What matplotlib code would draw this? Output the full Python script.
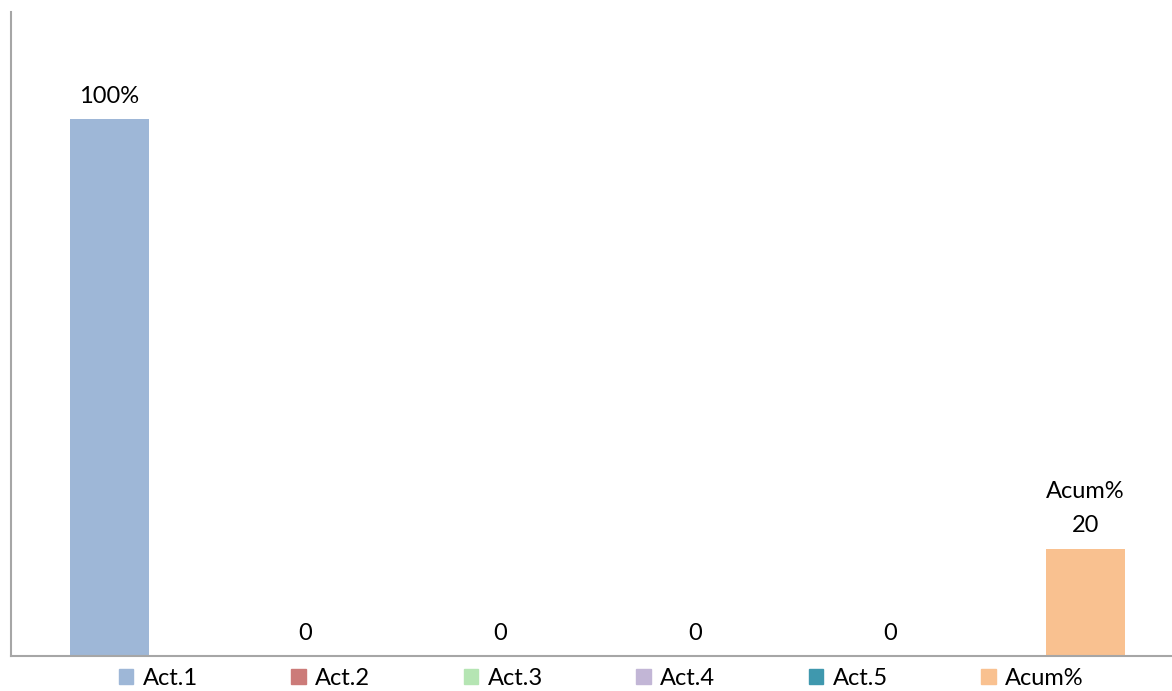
import matplotlib.pyplot as plt
import numpy as np

plt.rcParams['font.family'] = ['Lato', 'DejaVu Sans']

series = ["Act.1", "Act.2", "Act.3", "Act.4", "Act.5", "Acum%"]
values = [100, 0, 0, 0, 0, 20]
labels = ["100%", "0", "0", "0", "0", "Acum%\n20"]
colors = ['#9eb7d7', '#cc7b79', '#b5e5b3', '#c2b6d6', '#3f98ae', '#f9c190']

fig = plt.figure(figsize=(11.72, 6.91), dpi=100)
ax = fig.add_axes([11 / 1172, 1 - 656 / 691, 1 - 11 / 1172, 644 / 691])

x = np.arange(len(series))
bars = ax.bar(x, values, 0.405, color=colors, label=series, zorder=2)
for xi, v, lab in zip(x, values, labels):
    ax.annotate(lab, (xi, v), xytext=(0, 9), textcoords='offset points',
                ha='center', va='bottom', fontsize=17, linespacing=1.75)

ax.set_xlim(-0.505, 5.443)
ax.set_ylim(0, 120)
ax.set_xticks([])
ax.set_yticks([])
for s in ['top', 'right']:
    ax.spines[s].set_visible(False)
for s in ['left', 'bottom']:
    ax.spines[s].set_color('#a6a6a6')
    ax.spines[s].set_linewidth(1.5)

handles = [plt.Rectangle((0, 0), 1, 1, color=c) for c in colors]
fig.legend(handles, series, loc='lower center', bbox_to_anchor=(0.513, -0.028), ncol=6,
           frameon=False, fontsize=17, handlelength=0.62, handleheight=0.62,
           handletextpad=0.4, columnspacing=3.95)

fig.savefig('out.png', dpi=100)
